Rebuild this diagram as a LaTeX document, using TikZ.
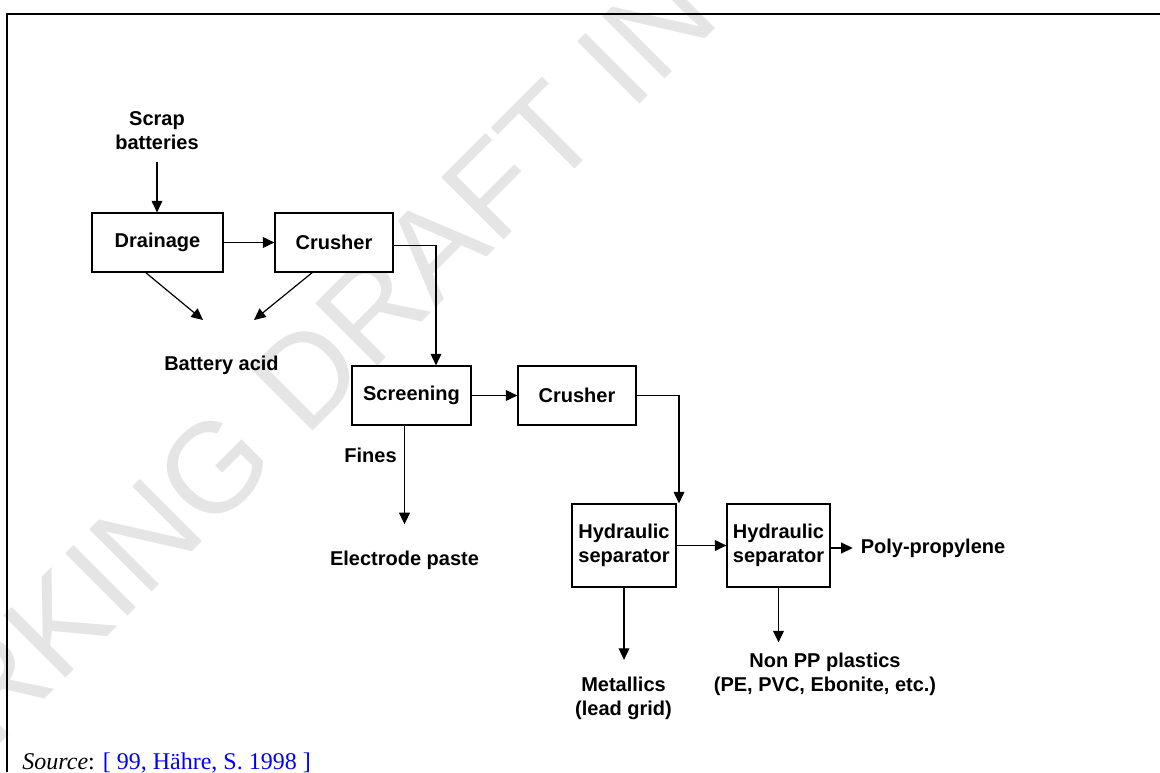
\documentclass[tikz,border=0pt]{standalone}
\usepackage{fontspec}
\setmainfont{Liberation Sans}
\newfontfamily\srcfont{Liberation Serif}
\usepackage{xcolor}
\usepackage{tikz}
\usetikzlibrary{arrows.meta,positioning}

\definecolor{wmgray}{RGB}{229,229,229}
\definecolor{srcblue}{RGB}{0,0,255}

\begin{document}
\begin{tikzpicture}[x=0.5pt, y=-0.5pt,
  box/.style={rectangle, draw, fill=white, line width=0.6pt, font=\bfseries,
              minimum height=29.5pt, inner sep=0pt, align=center},
  hbox/.style={box, minimum height=41.5pt},
  lbl/.style={font=\bfseries, inner sep=0pt, align=center},
  arr/.style={-{Triangle[length=5.8pt,width=5.4pt]}, line width=0.6pt},
  wmark/.style={font=\fontsize{64}{76}\selectfont, text=wmgray, rotate=45,
                inner sep=0pt, anchor=base}
]
\useasboundingbox (0,0) rectangle (1160,772);

% watermark and frame
\node[wmark] (wm) at (280,464) {WORKING DRAFT IN};
\draw[line width=1.3pt] (7,772) -- (7,14) -- (1160,14);

\node[lbl] (scrap) at (157,131) {Scrap\\batteries};

\node[box, minimum width=65.5pt] (drainage)  at (157.5,242.5) {Drainage};
\node[box, minimum width=59pt]   (crusher1)  at (334,242.5)   {Crusher};
\node[box, minimum width=59.5pt] (screening) at (411.5,395.5) {Screening};
\node[box, minimum width=59pt]   (crusher2)  at (577,395.5)   {Crusher};
\node[hbox, minimum width=52pt]  (hs1)       at (624,545.5)   {Hydraulic\\separator};
\node[hbox, minimum width=51.5pt] (hs2)      at (778.5,545.5) {Hydraulic\\separator};

\node[lbl] (acid)  at (221.5,365) {Battery acid};
\node[lbl] (fines) at (370.5,455) {Fines};
\node[lbl] (paste) at (404.5,560) {Electrode paste};
\node[lbl] (poly)  at (933,548)   {Poly-propylene};
\node[lbl] (metal) at (623.5,698) {Metallics\\(lead grid)};
\node[lbl] (nonpp) at (825,674.5) {Non PP plastics\\(PE, PVC, Ebonite, etc.)};

\coordinate (acidin1) at (203,320);
\coordinate (acidin2) at (254,320);

\draw[arr, shorten <=5.8pt] (scrap.south) -- (scrap.south |- drainage.north);
\draw[arr] (drainage) -- (crusher1);
\draw[arr] ([xshift=-5.9pt]drainage.south) -- (acidin1);
\draw[arr] ([xshift=-10.9pt]crusher1.south) -- (acidin2);
\draw[arr] ([yshift=-1.5pt]crusher1.east) -| ([xshift=12.25pt]screening.north);
\draw[arr] (screening) -- (crusher2);
\draw[arr, shorten >=13pt] (screening.south -| paste.north) -- (paste.north);
\draw[arr] (crusher2.east) -| ([xshift=27.5pt]hs1.north);
\draw[arr] (hs1) -- (hs2);
\draw[arr, shorten >=3.8pt] (hs2.east |- poly) -- (poly.west);
\draw[arr, shorten >=8.2pt] (hs1.south) -- (hs1.south |- metal.north);
\draw[arr, shorten >=5.2pt] (hs2.south) -- (hs2.south |- nonpp.north);

\node[anchor=base west, inner sep=0pt, font=\srcfont\fontsize{12}{14}\selectfont]
  (src) at (22,769) {\textit{Source}: \textcolor{srcblue}{[ 99, Hähre, S. 1998 ]}};
\end{tikzpicture}
\end{document}
